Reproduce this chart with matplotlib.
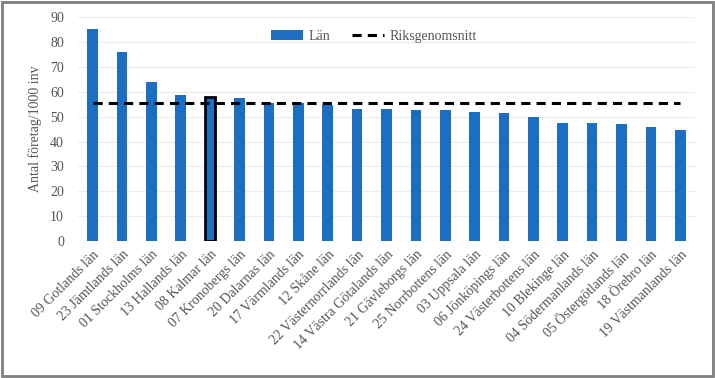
import matplotlib.pyplot as plt
from matplotlib.patches import Rectangle

# Data
lan = ['09 Gotlands län', '23 Jämtlands län', '01 Stockholms län', '13 Hallands län',
       '08 Kalmar län', '07 Kronobergs län', '20 Dalarnas län', '17 Värmlands län',
       '12 Skåne län', '22 Västernorrlands län', '14 Västra Götalands län',
       '21 Gävleborgs län', '25 Norrbottens län', '03 Uppsala län', '06 Jönköpings län',
       '24 Västerbottens län', '10 Blekinge län', '04 Södermanlands län',
       '05 Östergötlands län', '18 Örebro län', '19 Västmanlands län']
foretag = [85, 76, 64, 58.5, 58, 57.5, 55.5, 55.5, 54.5, 53, 53, 52.5, 52.5, 52,
           51.5, 50, 47.5, 47.5, 47, 46, 44.5]
riksgenomsnitt = 55.5
highlight = '08 Kalmar län'

plt.rcParams['font.family'] = ['Liberation Serif', 'DejaVu Serif']
txt = '#555555'

fig = plt.figure(figsize=(7.15, 3.78), dpi=100)
ax = fig.add_axes([0.109, 0.362, 0.863, 0.593])

x = list(range(len(lan)))
bars = ax.bar(x, foretag, width=0.36, color='#1b6ec2', label='Län', zorder=2)
for b, name in zip(bars, lan):
    if name == highlight:
        b.set_edgecolor('black')
        b.set_linewidth(2)
line, = ax.plot(x, [riksgenomsnitt] * len(x), color='black', linestyle=(0, (3, 2)),
                linewidth=2.2, label='Riksgenomsnitt', zorder=3)

ax.set_xlim(-0.5, len(lan) - 0.5)
ax.set_ylim(0, 90)
ax.set_yticks(range(0, 91, 10))
ax.set_xticks(x)
ax.set_xticklabels(lan, rotation=45, ha='right', rotation_mode='anchor',
                   fontsize=10, color=txt)
ax.tick_params(axis='y', labelsize=10, labelcolor=txt, length=0, pad=10)
ax.tick_params(axis='x', length=0, pad=5)
ax.set_ylabel('Antal företag/1000 inv', fontsize=10, color=txt, labelpad=6)
ax.grid(axis='y', color='#ececec', linewidth=0.8, zorder=0)
for s in ax.spines.values():
    s.set_visible(False)

ax.legend(handles=[bars, line], loc='upper center', bbox_to_anchor=(0.48, 1.0),
          ncol=2, frameon=False, fontsize=10, labelcolor=txt, handlelength=2.3,
          columnspacing=1.6, handletextpad=0.4)

fig.patches.append(Rectangle((0.003, 0.005), 0.994, 0.99, transform=fig.transFigure,
                             fill=False, edgecolor='#7f7f7f', linewidth=2))

fig.savefig('out.png', dpi=100)
